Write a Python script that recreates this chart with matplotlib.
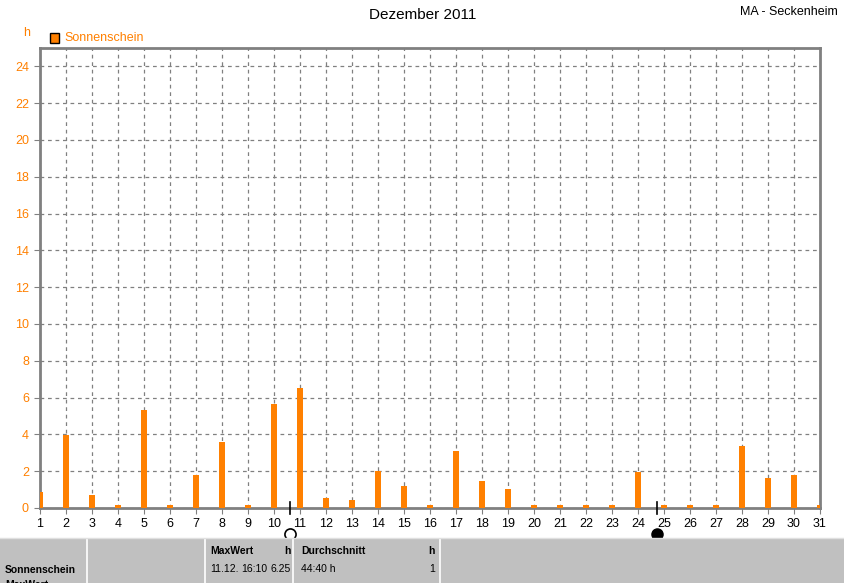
import numpy as np
import matplotlib.pyplot as plt
from matplotlib.patches import Rectangle

plt.rcParams['font.family'] = ['Liberation Sans', 'DejaVu Sans']

# Sonnenscheindauer je Tag, Dezember 2011 (h)
tage = np.arange(1, 32)
sonne = [0.85, 3.95, 0.72, 0.15, 5.3, 0.15, 1.78, 3.6, 0.15, 5.65,
         6.5, 0.52, 0.42, 2.02, 1.18, 0.15, 3.1, 1.45, 1.02, 0.15,
         0.15, 0.15, 0.15, 1.93, 0.15, 0.15, 0.15, 3.35, 1.62, 1.78, 0.15]
y_ticks = list(range(0, 25, 2))
mond_voll = 10.61
mond_neu = 24.75

orange = '#FF8000'
grau = '#808080'

W, H = 845, 583
fig = plt.figure(figsize=(W / 100, H / 100), dpi=100)

def fx(px):
    return px / W

def fy(py):
    return 1 - py / H

ax = fig.add_axes([fx(40), fy(508), fx(820) - fx(40), fy(48) - fy(508)])
ax.bar(tage, sonne, width=0.23, color=orange, zorder=3)

ax.set_xlim(1, 31)
ax.set_ylim(0, 25)
ax.set_xticks(tage)
ax.set_xticklabels([str(t) for t in tage], fontsize=9, color='black')
ax.set_yticks(y_ticks)
ax.set_yticklabels([str(v) for v in y_ticks], fontsize=9, color=orange)
ax.tick_params(axis='x', length=4, color=grau, pad=3)
ax.tick_params(axis='y', length=4, color=grau, pad=4)
ax.grid(True, color=grau, linestyle=(0, (3, 3)), linewidth=0.9, zorder=0)
for s in ax.spines.values():
    s.set_color(grau)
    s.set_linewidth(2)

# Mondphasen
ax.plot([mond_voll, mond_voll], [-0.3, 0.35], color='black', lw=1.2, clip_on=False, zorder=5)
ax.plot([mond_neu, mond_neu], [-0.3, 0.35], color='black', lw=1.2, clip_on=False, zorder=5)
ax.plot(mond_voll, -1.4, marker='o', ms=8, mfc='white', mec='black', mew=1.2, clip_on=False)
ax.plot(mond_neu, -1.4, marker='o', ms=8, mfc='black', mec='black', clip_on=False)

# Beschriftungen
fig.text(fx(423), fy(15), 'Dezember 2011', ha='center', va='center', fontsize=11)
fig.text(fx(838), fy(12), 'MA - Seckenheim', ha='right', va='center', fontsize=9)
fig.text(fx(27), fy(33), 'h', ha='center', va='center', fontsize=9, color=orange)
fig.patches.append(Rectangle((fx(50), fy(43)), fx(9), fy(33) - fy(43), transform=fig.transFigure,
                             facecolor=orange, edgecolor='black', lw=1))
fig.text(fx(64), fy(38), 'Sonnenschein', ha='left', va='center', fontsize=9, color=orange)

# Tabelle unten
fig.patches.append(Rectangle((0, 0), 1, fy(538), transform=fig.transFigure,
                             facecolor='#C0C0C0', edgecolor='none'))
for xs in [87, 205, 293, 440]:
    fig.add_artist(plt.Line2D([fx(xs), fx(xs)], [0, fy(538)], color='white', lw=1.2))
fig.add_artist(plt.Line2D([0, 1], [fy(538), fy(538)], color='#E0E0E0', lw=1))

def zelle(x, y, s, bold=False, ha='left'):
    fig.text(fx(x), fy(y), s, fontsize=7.5, fontweight='bold' if bold else 'normal',
             va='center', ha=ha)

zelle(5, 570, 'Sonnenschein', bold=True)
zelle(5, 585, 'MaxWert', bold=True)
zelle(210, 551, 'MaxWert', bold=True)
zelle(291, 551, 'h', bold=True, ha='right')
zelle(210, 569, '11.12.')
zelle(267, 569, '16:10', ha='right')
zelle(291, 569, '6.25', ha='right')
zelle(301, 551, 'Durchschnitt', bold=True)
zelle(435, 551, 'h', bold=True, ha='right')
zelle(301, 569, '44:40 h')
zelle(435, 569, '1', ha='right')

fig.savefig('out.png', dpi=100)
